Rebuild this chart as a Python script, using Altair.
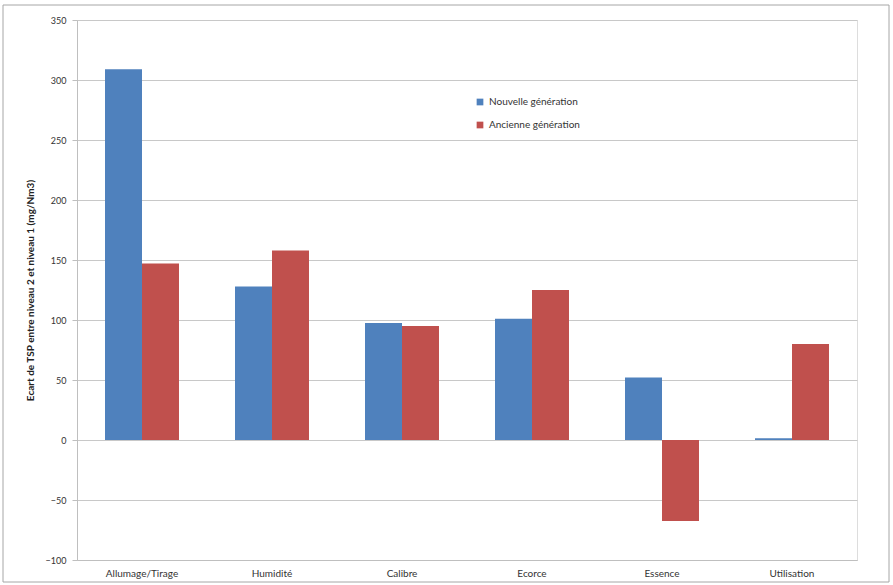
import altair as alt
import pandas as pd

categories = ["Allumage/Tirage", "Humidité", "Calibre", "Ecorce", "Essence", "Utilisation"]
series_names = ["Nouvelle génération", "Ancienne génération"]
nouvelle = [309, 128, 97.5, 101, 52, 1.5]
ancienne = [147, 158, 95, 125, -67.5, 80]

rows = []
for c, n, a in zip(categories, nouvelle, ancienne):
    rows.append({"cat": c, "serie": series_names[0], "val": n})
    rows.append({"cat": c, "serie": series_names[1], "val": a})
df = pd.DataFrame(rows)

FONT = "Lato"

bars = alt.Chart(df).mark_bar().encode(
    x=alt.X("cat:N", sort=categories, title=None,
            scale=alt.Scale(paddingInner=0, paddingOuter=0),
            axis=alt.Axis(labelAngle=0, ticks=False, domain=True, domainColor="#bfbfbf",
                          labelColor="#333333", labelFont=FONT, labelFontSize=10, labelPadding=8)),
    xOffset=alt.XOffset("serie:N", sort=series_names,
                        scale=alt.Scale(paddingInner=0, paddingOuter=0.757)),
    y=alt.Y("val:Q", title="Ecart de TSP entre niveau 2 et niveau 1 (mg/Nm3)",
            scale=alt.Scale(domain=[-100, 350], nice=False),
            axis=alt.Axis(values=list(range(-100, 351, 50)), grid=True, gridColor="#c8c8c8",
                          domainColor="#bfbfbf", tickColor="#bfbfbf", tickSize=5,
                          labelColor="#333333", labelFont=FONT, labelFontSize=9, labelPadding=6,
                          titleFont=FONT, titleFontSize=10, titleFontWeight="bold",
                          titleColor="#222222", titlePadding=10)),
    color=alt.Color("serie:N", sort=series_names,
                    scale=alt.Scale(domain=series_names, range=["#4F81BD", "#C0504D"]),
                    legend=alt.Legend(title=None, orient="none", legendX=398, legendY=77,
                                      symbolType="square", symbolSize=45, symbolStrokeWidth=0,
                                      labelFont=FONT, labelFontSize=10, labelColor="#333333",
                                      rowPadding=13)),
)

border = alt.Chart(pd.DataFrame({"a": [0]})).mark_rect(
    fill=None, stroke="#a6a6a6", strokeWidth=1, clip=False
).encode(x=alt.value(-74), x2=alt.value(812), y=alt.value(-15), y2=alt.value(562))

chart = alt.layer(border, bars).properties(
    width=780, height=540,
    autosize=alt.AutoSizeParams(type="none"),
    padding={"left": 77, "top": 20, "right": 36, "bottom": 25},
).configure_view(stroke=None).configure(background="white")

chart.save("out.html", embed_options={"renderer": "svg", "actions": False})
